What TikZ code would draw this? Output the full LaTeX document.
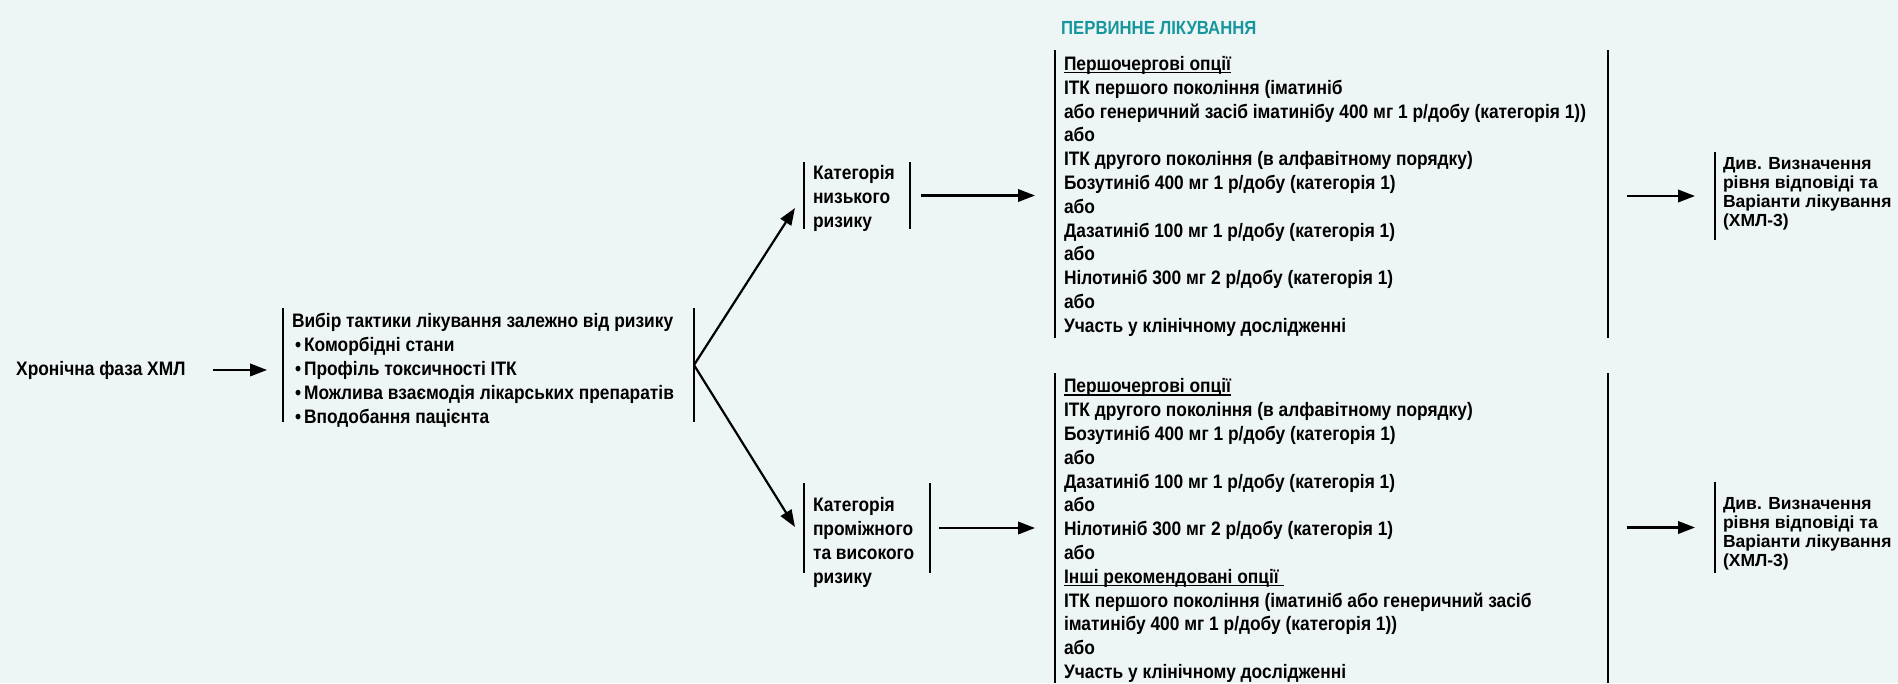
\documentclass[tikz,border=0pt]{standalone}
\usepackage{fontspec}
\usetikzlibrary{arrows.meta}
\newfontfamily\fmain[FakeStretch=0.89]{Liberation Sans Bold}
\newfontfamily\fsmall{Liberation Sans Bold}
\newfontfamily\ftitle[FakeStretch=0.88]{Liberation Sans Bold}
\definecolor{bg}{RGB}{238,246,245}
\definecolor{tealtitle}{RGB}{24,150,158}
\newcommand\mainsz{\fmain\fontsize{19.5}{23.8}\selectfont}
\newcommand\smallsz{\fsmall\fontsize{17.5}{19}\selectfont}
\newcommand\ulin[1]{\setbox0\hbox{#1}\rlap{\rule[-2.6pt]{\wd0}{1.3pt}}\box0}
\tikzset{
  region/.style={inner sep=0pt, outer sep=0pt, anchor=north west, draw=none},
  bar/.style={line width=2.9pt},
  sbar/.style={line width=2.4pt},
  arr/.style={line width=2.2pt, -{Triangle[length=17pt,width=12.5pt]}},
  txt/.style={inner sep=0pt, outer sep=0pt, anchor=north west, align=left, font=\mainsz},
  stxt/.style={inner sep=0pt, outer sep=0pt, anchor=north west, align=left, font=\smallsz},
}
\begin{document}
\begin{tikzpicture}[x=1pt,y=-1pt]
\path[use as bounding box, fill=bg] (0,0) rectangle (1898,683);

% regions (bars)
\node[region, minimum width=411pt, minimum height=114pt] (b1) at (283,308) {};
\node[region, minimum width=106pt, minimum height=67pt] (bl) at (804,162) {};
\node[region, minimum width=126pt, minimum height=90pt] (bh) at (804,483) {};
\node[region, minimum width=553pt, minimum height=288pt] (bb1) at (1055,50) {};
\node[region, minimum width=553pt, minimum height=310pt] (bb2) at (1055,373) {};
\node[region, minimum width=180pt, minimum height=88pt] (s1) at (1715,152) {};
\node[region, minimum width=180pt, minimum height=91pt] (s2) at (1715,482) {};

\foreach \r in {b1,bl,bh,bb1,bb2}{
  \draw[bar] (\r.north west) -- (\r.south west) (\r.north east) -- (\r.south east);
}
\draw[sbar] (s1.north west) -- (s1.south west);
\draw[sbar] (s2.north west) -- (s2.south west);

% texts
\node[inner sep=0pt, anchor=base west, font=\mainsz] (chron) at (16,375) {Хронічна фаза ХМЛ};
\node[inner sep=0pt, anchor=base west, font=\ftitle\fontsize{19}{22}\selectfont, text=tealtitle] (title) at (1061,34) {ПЕРВИННЕ ЛІКУВАННЯ};

\node[txt] (t1) at (292,311.3) {\strut Вибір тактики лікування залежно від ризику\\
\hspace{3pt}•\hspace{3pt}Коморбідні стани\\
\hspace{3pt}•\hspace{3pt}Профіль токсичності ІТК\\
\hspace{3pt}•\hspace{3pt}Можлива взаємодія лікарських препаратів\\
\hspace{3pt}•\hspace{3pt}Вподобання пацієнта};

\node[txt] (tl) at (813,163.3) {\strut Категорія\\низького\\ризику};
\node[txt] (th) at (813,495.3) {\strut Категорія\\проміжного\\та високого\\ризику};

\node[txt] (tb1) at (1064,53.8) {\strut\ulin{Першочергові опції}\\
ІТК першого покоління (іматиніб\\
або генеричний засіб іматинібу 400 мг 1 р/добу (категорія 1))\\
або\\
ІТК другого покоління (в алфавітному порядку)\\
Бозутиніб 400 мг 1 р/добу (категорія 1)\\
або\\
Дазатиніб 100 мг 1 р/добу (категорія 1)\\
або\\
Нілотиніб 300 мг 2 р/добу (категорія 1)\\
або\\
Участь у клінічному дослідженні};

\node[txt] (tb2) at (1064,376.3) {\strut\ulin{Першочергові опції}\\
ІТК другого покоління (в алфавітному порядку)\\
Бозутиніб 400 мг 1 р/добу (категорія 1)\\
або\\
Дазатиніб 100 мг 1 р/добу (категорія 1)\\
або\\
Нілотиніб 300 мг 2 р/добу (категорія 1)\\
або\\
\ulin{Інші рекомендовані опції\ }\\
ІТК першого покоління (іматиніб або генеричний засіб\\
іматинібу 400 мг 1 р/добу (категорія 1))\\
або\\
Участь у клінічному дослідженні};

\node[stxt] (ts1) at (1723,156) {\strut Див. Визначення\\рівня відповіді та\\Варіанти лікування\\(ХМЛ-3)};
\node[stxt] (ts2) at (1723,496) {\strut Див. Визначення\\рівня відповіді та\\Варіанти лікування\\(ХМЛ-3)};

% connectors
\draw[arr] ([xshift=27pt]chron.east) -- ([xshift=-16pt]chron.east -| b1.west);
\draw[arr] (b1.east) -- ([shift={(-9,12.5)}]bl.west);
\draw[arr] (b1.east) -- ([shift={(-9,-1)}]bh.west);
\draw[arr] ([xshift=11pt]bl.east) -- ([xshift=-20pt]bl.east -| bb1.west);
\draw[arr] ([xshift=9pt]bh.east) -- ([xshift=-20pt]bh.east -| bb2.west);
\draw[arr] ([xshift=19pt]bb1.east |- s1.west) -- ([xshift=-20pt]s1.west);
\draw[arr] ([xshift=19pt]bb2.east |- s2.west) -- ([xshift=-20pt]s2.west);
\end{tikzpicture}
\end{document}
